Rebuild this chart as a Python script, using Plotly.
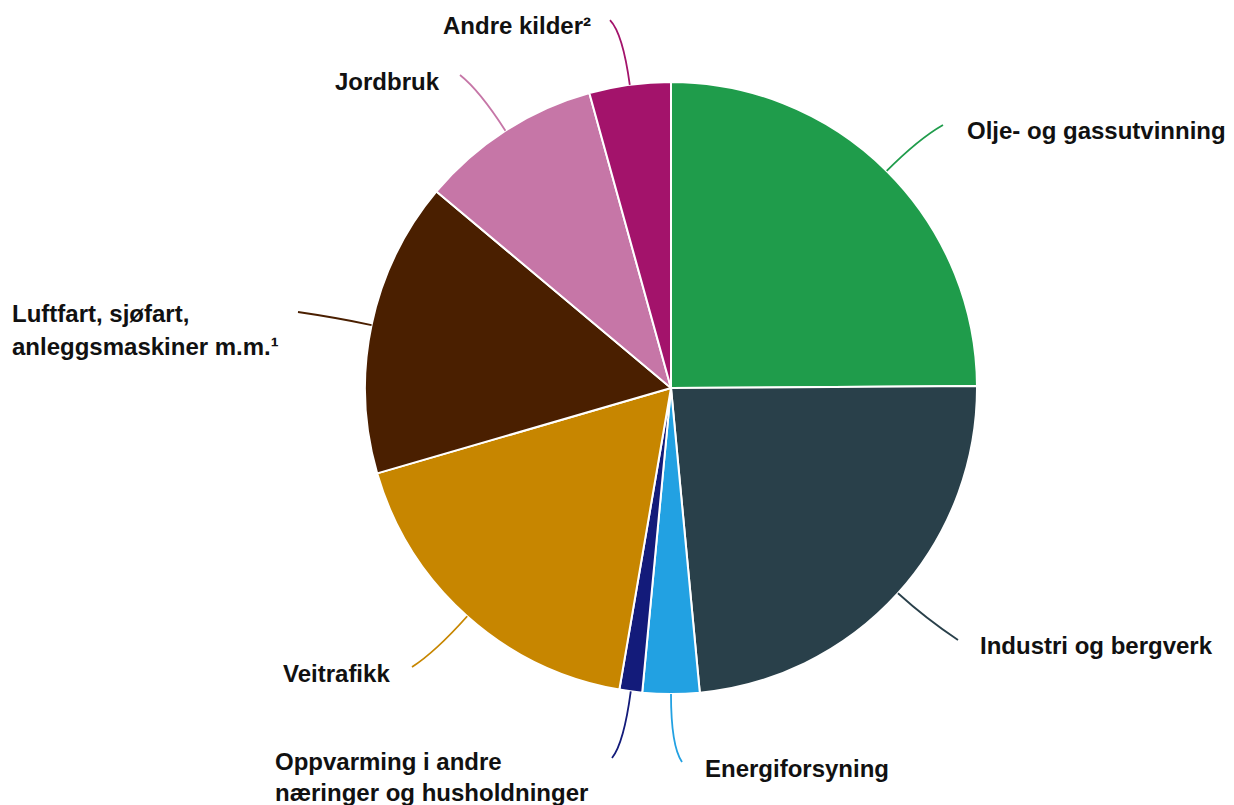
import math
import plotly.graph_objects as go

# ---- data ----
categories = [
    "Olje- og gassutvinning",
    "Industri og bergverk",
    "Energiforsyning",
    "Oppvarming i andre næringer og husholdninger",
    "Veitrafikk",
    "Luftfart, sjøfart, anleggsmaskiner m.m.¹",
    "Jordbruk",
    "Andre kilder²",
]
shares = [24.9, 23.6, 3.0, 1.2, 17.8, 15.6, 9.6, 4.3]
label_lines = [
    ["Olje- og gassutvinning"],
    ["Industri og bergverk"],
    ["Energiforsyning"],
    ["Oppvarming i andre", "næringer og husholdninger"],
    ["Veitrafikk"],
    ["Luftfart, sjøfart,", "anleggsmaskiner m.m.¹"],
    ["Jordbruk"],
    ["Andre kilder²"],
]

# ---- style / layout ----
colors = ["#1f9c4b", "#29404a", "#22a1e2", "#131b7a", "#c78600",
          "#4a1f00", "#c676a7", "#a3136b"]
OFF = 8                      # page body margin
W, H = 1234 - OFF, 805 - OFF
CX, CY, R = 671, 388, 306    # pie centre and radius (window pixels)

# label anchor (x left, y centre of first line), leader end point, bend distance
label_pos = [(965, 130), (978, 645), (703, 768), (273, 761),
             (281, 673), (10, 313), (333, 82), (441, 25)]
line_gaps = [0, 0, 0, 31, 0, 33, 0, 0]
line_end = [(943, 125), (958, 640), (682, 762), (612, 758),
            (412, 667), (298, 312), (460, 75), (610, 20)]
bend = [45, 38, 52, 52, 48, 36, 48, 52]
FONT_SIZE = 24

def px(x):
    return (x - OFF) / W

def py(y):
    return 1 - (y - OFF) / H

fig = go.Figure()
fig.add_trace(go.Pie(
    labels=categories,
    values=shares,
    sort=False,
    direction="clockwise",
    rotation=0,
    textinfo="none",
    hoverinfo="label+percent",
    marker=dict(colors=colors, line=dict(color="white", width=2)),
    domain=dict(x=[px(CX - R), px(CX + R)], y=[py(CY + R), py(CY - R)]),
    showlegend=False,
))

shapes = []
annotations = []
total = sum(shares)
cum = 0.0
for i, v in enumerate(shares):
    mid = (cum + v / 2) / total * 2 * math.pi
    cum += v
    dx, dy = math.sin(mid), -math.cos(mid)
    sx, sy = CX + R * dx, CY + R * dy
    cx_, cy_ = sx + bend[i] * dx, sy + bend[i] * dy
    ex, ey = line_end[i]
    path = (f"M {px(sx):.5f},{py(sy):.5f} Q {px(cx_):.5f},{py(cy_):.5f} "
            f"{px(ex):.5f},{py(ey):.5f}")
    shapes.append(dict(type="path", xref="paper", yref="paper", path=path,
                       line=dict(color=colors[i], width=1.8)))
    lx, ly = label_pos[i]
    for j, t in enumerate(label_lines[i]):
        annotations.append(dict(
            x=px(lx), y=py(ly + j * line_gaps[i]), xref="paper", yref="paper",
            xanchor="left", yanchor="middle", showarrow=False, text=t,
            font=dict(family="Liberation Sans, Arial, sans-serif", size=FONT_SIZE,
                      color="#111111", weight="bold"),
        ))

fig.update_layout(
    width=W, height=H,
    margin=dict(l=0, r=0, t=0, b=0),
    paper_bgcolor="white", plot_bgcolor="white",
    shapes=shapes, annotations=annotations,
)
fig.write_html("out.html")
